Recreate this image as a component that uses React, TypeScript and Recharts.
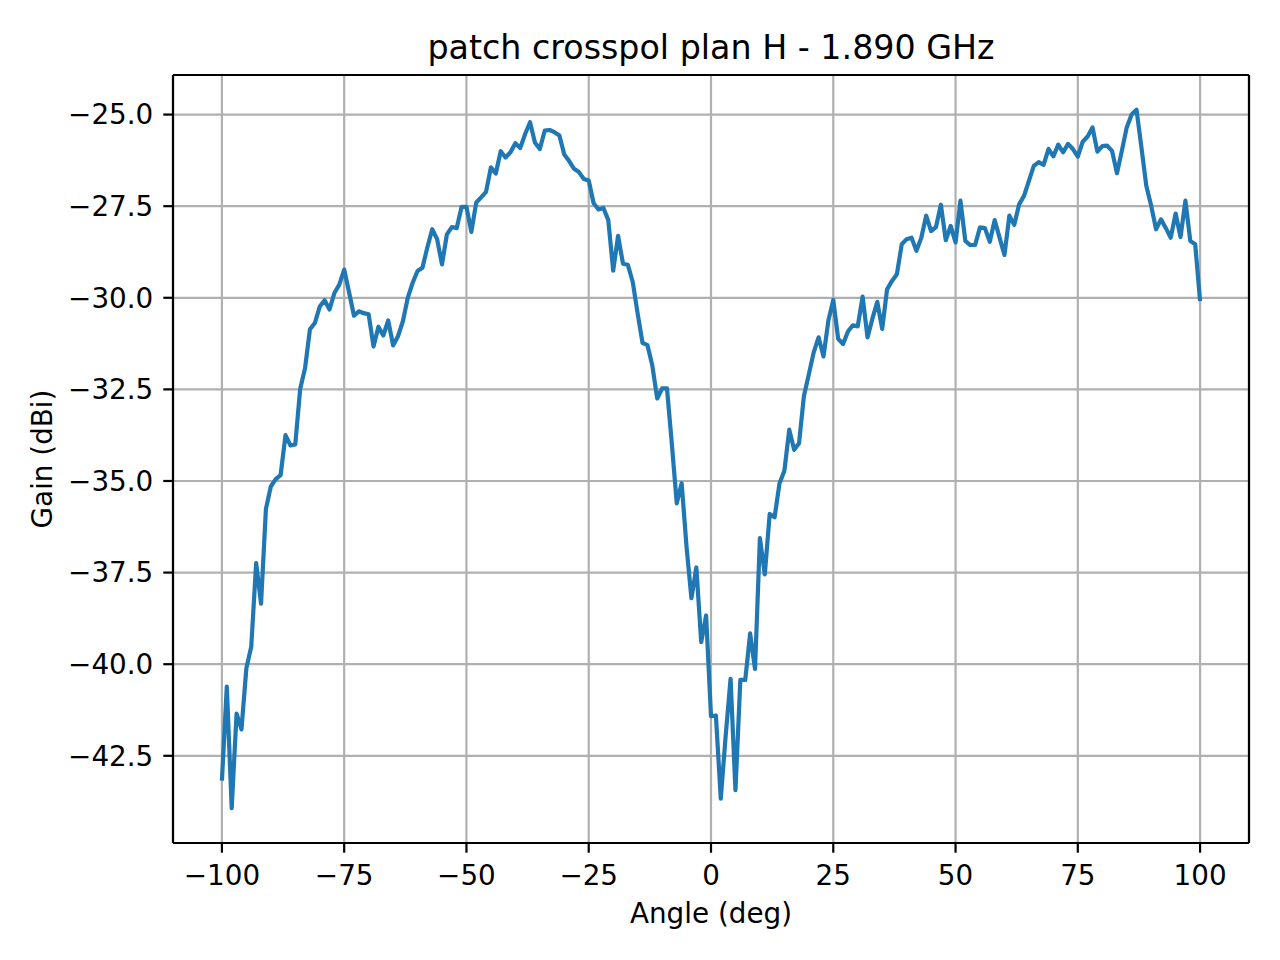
import React from 'react';
import { LineChart, Line, XAxis, YAxis, CartesianGrid, ReferenceLine } from 'recharts';

const angles = [
  -100, -99, -98, -97, -96, -95, -94, -93, -92, -91,
  -90, -89, -88, -87, -86, -85, -84, -83, -82, -81,
  -80, -79, -78, -77, -76, -75, -74, -73, -72, -71,
  -70, -69, -68, -67, -66, -65, -64, -63, -62, -61,
  -60, -59, -58, -57, -56, -55, -54, -53, -52, -51,
  -50, -49, -48, -47, -46, -45, -44, -43, -42, -41,
  -40, -39, -38, -37, -36, -35, -34, -33, -32, -31,
  -30, -29, -28, -27, -26, -25, -24, -23, -22, -21,
  -20, -19, -18, -17, -16, -15, -14, -13, -12, -11,
  -10, -9, -8, -7, -6, -5, -4, -3, -2, -1,
  0, 1, 2, 3, 4, 5, 6, 7, 8, 9,
  10, 11, 12, 13, 14, 15, 16, 17, 18, 19,
  20, 21, 22, 23, 24, 25, 26, 27, 28, 29,
  30, 31, 32, 33, 34, 35, 36, 37, 38, 39,
  40, 41, 42, 43, 44, 45, 46, 47, 48, 49,
  50, 51, 52, 53, 54, 55, 56, 57, 58, 59,
  60, 61, 62, 63, 64, 65, 66, 67, 68, 69,
  70, 71, 72, 73, 74, 75, 76, 77, 78, 79,
  80, 81, 82, 83, 84, 85, 86, 87, 88, 89,
  90, 91, 92, 93, 94, 95, 96, 97, 98, 99,
  100,
];

// gain in dBi, one value per angle
const gain = [
  -43.18, -40.61, -43.93, -41.35, -41.78, -40.11, -39.52, -37.24, -38.35, -35.76,
  -35.15, -34.95, -34.84, -33.75, -34.03, -34.0, -32.49, -31.92, -30.86, -30.69,
  -30.24, -30.07, -30.32, -29.87, -29.64, -29.23, -29.85, -30.49, -30.37, -30.42,
  -30.45, -31.33, -30.79, -31.03, -30.62, -31.3, -31.05, -30.64, -30.0, -29.59,
  -29.27, -29.18, -28.63, -28.13, -28.4, -29.09, -28.27, -28.07, -28.1, -27.52,
  -27.52, -28.2, -27.4, -27.26, -27.11, -26.44, -26.61, -26.0, -26.17, -26.03,
  -25.78, -25.91, -25.53, -25.21, -25.76, -25.94, -25.44, -25.42, -25.48, -25.57,
  -26.09, -26.27, -26.48, -26.57, -26.76, -26.8, -27.42, -27.59, -27.55, -27.88,
  -29.26, -28.31, -29.07, -29.1, -29.57, -30.43, -31.23, -31.29, -31.85, -32.75,
  -32.47, -32.47, -34.0, -35.61, -35.06, -36.8, -38.2, -37.36, -39.4, -38.67,
  -41.42, -41.4, -43.67, -41.95, -40.4, -43.44, -40.43, -40.43, -39.16, -40.13,
  -36.56, -37.55, -35.9, -35.99, -35.07, -34.72, -33.6, -34.15, -33.97, -32.68,
  -32.09, -31.49, -31.08, -31.6, -30.62, -30.06, -31.12, -31.26, -30.92, -30.75,
  -30.78, -29.97, -31.08, -30.57, -30.11, -30.85, -29.77, -29.54, -29.36, -28.54,
  -28.4, -28.36, -28.72, -28.36, -27.76, -28.18, -28.07, -27.46, -28.43, -28.04,
  -28.49, -27.35, -28.45, -28.56, -28.56, -28.08, -28.1, -28.47, -27.88, -28.36,
  -28.83, -27.76, -28.01, -27.45, -27.22, -26.81, -26.4, -26.3, -26.37, -25.94,
  -26.14, -25.82, -26.03, -25.8, -25.94, -26.15, -25.74, -25.6, -25.35, -26.01,
  -25.86, -25.85, -25.99, -26.6, -25.99, -25.35, -25.0, -24.87, -25.89, -26.94,
  -27.49, -28.13, -27.86, -28.1, -28.36, -27.7, -28.34, -27.35, -28.45, -28.54,
  -30.09,
];

const xTicks = [-100, -75, -50, -25, 0, 25, 50, 75, 100];
const yTicks = [-42.5, -40, -37.5, -35, -32.5, -30, -27.5, -25];
const xDomain = [-110, 110];
const yDomain = [-44.88, -23.92];

const data = angles.map((a, i) => ({ angle: a, gain: gain[i] }));

const FONT = '"DejaVu Sans", sans-serif';
const tickStyle = { fontSize: 27.8, fill: '#000', fontFamily: FONT };
const spine = { stroke: '#000', strokeWidth: 2.2 };

const minus = (s: string) => s.replace('-', '\u2212');

export default function App() {
  return (
    <div style={{ position: 'relative', width: 1280, height: 960, background: '#fff' }}>
      <style>{'body{margin:0}'}</style>
      <LineChart
        width={1280}
        height={960}
        data={data}
        margin={{ top: 75, right: 31, bottom: 0, left: 0 }}
      >
        <CartesianGrid stroke="#b0b0b0" strokeWidth={2.2} />
        <XAxis
          dataKey="angle"
          type="number"
          domain={xDomain}
          allowDataOverflow
          ticks={xTicks}
          height={117}
          tickSize={9.7}
          tickMargin={13}
          tick={tickStyle}
          tickLine={spine}
          axisLine={spine}
          tickFormatter={(v: number) => minus(String(v))}
        />
        <YAxis
          type="number"
          domain={yDomain}
          allowDataOverflow
          ticks={yTicks}
          width={173}
          tickSize={9.7}
          tickMargin={10}
          tick={tickStyle}
          tickLine={spine}
          axisLine={spine}
          tickFormatter={(v: number) => minus(v.toFixed(1))}
        />
        <Line
          type="linear"
          dataKey="gain"
          stroke="#1f77b4"
          strokeWidth={4.2}
          strokeLinejoin="round"
          dot={false}
          activeDot={false}
          isAnimationActive={false}
        />
        {/* top and right spines */}
        <ReferenceLine y={yDomain[1]} stroke="#000" strokeWidth={2.2} ifOverflow="visible" />
        <ReferenceLine x={xDomain[1]} stroke="#000" strokeWidth={2.2} ifOverflow="visible" />
      </LineChart>
      <svg
        width={1280}
        height={960}
        style={{ position: 'absolute', left: 0, top: 0, pointerEvents: 'none' }}
        fontFamily={FONT}
      >
        <text x={711} y={58.5} textAnchor="middle" fontSize={33.3} fill="#000">
          patch crosspol plan H - 1.890 GHz
        </text>
        <text x={711} y={922.5} textAnchor="middle" fontSize={27.8} fill="#000">
          Angle (deg)
        </text>
        <text
          x={51.5}
          y={459}
          textAnchor="middle"
          fontSize={27.8}
          fill="#000"
          transform="rotate(-90 51.5 459)"
        >
          Gain (dBi)
        </text>
      </svg>
    </div>
  );
}
